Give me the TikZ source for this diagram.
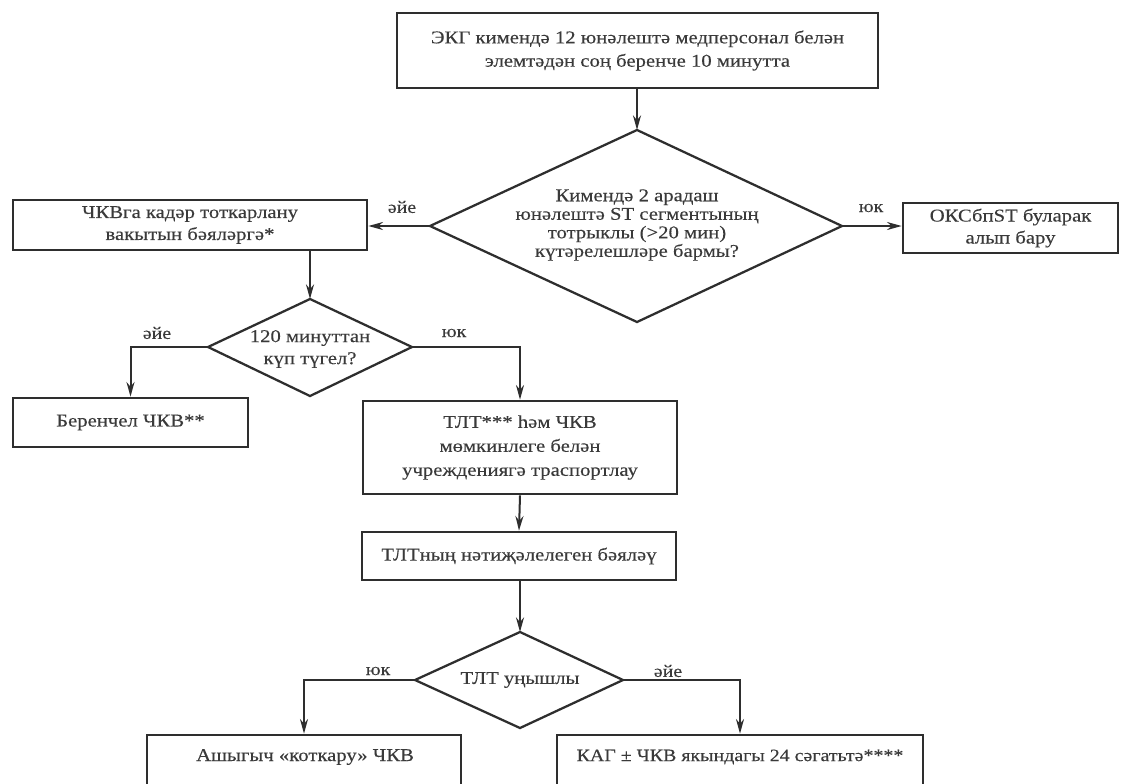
\documentclass[tikz,border=0pt]{standalone}
\usepackage{fontspec}
\setmainfont{Liberation Serif}
\newfontfamily\wide[FakeStretch=1.15,FakeBold=0.25]{Liberation Serif}
\usetikzlibrary{arrows.meta}
\definecolor{ink}{HTML}{2E2E2E}
\definecolor{txt}{HTML}{3A3A3A}
\tikzset{
  box/.style={draw=ink, line width=2pt, fill=white, text=txt, align=center, inner sep=0pt,
    font=\wide\fontsize{13.5}{17.5}\selectfont},
  dtext/.style={text=txt, align=center, inner sep=0pt, font=\wide\fontsize{13.5}{17.5}\selectfont},
  conn/.style={draw=ink, line width=1.5pt, -{Stealth[length=11pt,width=6pt]}},
  diam/.style={draw=ink, line width=1.7pt},
  lbl/.style={text=txt, font=\wide\fontsize{13}{15}\selectfont, inner sep=0pt},
}
\begin{document}
\begin{tikzpicture}[x=0.75pt,y=-0.75pt]
\useasboundingbox (0,0) rectangle (1123,783);
\clip (0,0) rectangle (1123,783);
% boxes
\node[box, minimum width=481*0.75pt, minimum height=75*0.75pt] (top) at (637.5,50.5)
  {ЭКГ кимендә 12 юнәлештә медперсонал белән\\элемтәдән соң беренче 10 минутта};
\node[box, minimum width=354*0.75pt, minimum height=50*0.75pt,
  font=\wide\fontsize{13.5}{16.5}\selectfont] (delay) at (190,225)
  {ЧКВга кадәр тоткарлану\\вакытын бәяләргә*};
\node[box, minimum width=215*0.75pt, minimum height=50*0.75pt,
  font=\wide\fontsize{13.5}{16.5}\selectfont] (oks) at (1010.5,228)
  {ОКСбпST буларак\\алып бару};
\node[box, minimum width=235*0.75pt, minimum height=49*0.75pt] (prim) at (130.5,422.5)
  {Беренчел ЧКВ**};
\node[box, minimum width=314*0.75pt, minimum height=93*0.75pt,
  font=\wide\fontsize{13.5}{18}\selectfont] (tlt) at (520,447.5)
  {ТЛТ*** һәм ЧКВ\\мөмкинлеге белән\\учреждениягә траспортлау};
\node[box, minimum width=314*0.75pt, minimum height=48*0.75pt] (eval) at (519,556)
  {ТЛТның нәтиҗәлелеген бәяләү};
\node[box, minimum width=314*0.75pt, minimum height=110*0.75pt] (resc) at (304,790) {};
\node[dtext] (resct) at (305,757) {Ашыгыч «коткару» ЧКВ};
\node[box, minimum width=366*0.75pt, minimum height=110*0.75pt] (kag) at (740,790) {};
\node[dtext, font=\wide\fontsize{13}{15}\selectfont] (kagt) at (740,757) {КАГ ± ЧКВ якындагы 24 сәгатьтә****};
% diamond 1
\coordinate (d1t) at (637,130); \coordinate (d1l) at (430,226);
\coordinate (d1r) at (842,226); \coordinate (d1b) at (637,322);
\draw[diam] (d1t) -- (d1r) -- (d1b) -- (d1l) -- cycle;
\node[dtext, font=\wide\fontsize{13.5}{13.9}\selectfont] (d1) at (637,225)
  {Кимендә 2 арадаш\\юнәлештә ST сегментының\\тотрыклы (>20 мин)\\күтәрелешләре бармы?};
% diamond 2
\coordinate (d2t) at (310,299); \coordinate (d2l) at (208,347);
\coordinate (d2r) at (412,347); \coordinate (d2b) at (310,396);
\draw[diam] (d2t) -- (d2r) -- (d2b) -- (d2l) -- cycle;
\node[dtext, font=\wide\fontsize{13.5}{16.5}\selectfont] (d2) at (310,349) {120 минуттан\\күп түгел?};
% diamond 3
\coordinate (d3t) at (520,632); \coordinate (d3l) at (415,680);
\coordinate (d3r) at (623,680); \coordinate (d3b) at (520,728);
\draw[diam] (d3t) -- (d3r) -- (d3b) -- (d3l) -- cycle;
\node[dtext] (d3) at (520,680) {ТЛТ уңышлы};
% connectors
\draw[conn] (top.south -| d1t) -- (d1t);
\draw[conn] (d1l) -- (delay.east |- d1l);
\draw[conn] (d1r) -- (oks.west |- d1r);
\draw[conn] (delay.south -| d2t) -- (d2t);
\draw[conn] (d2l) -| (prim.north);
\draw[conn] (d2r) -| (tlt.north);
\draw[conn] (tlt.south) -- (eval.north);
\draw[conn] (eval.south -| d3t) -- (d3t);
\draw[conn] (d3l) -| (resc.north);
\draw[conn] (d3r) -| (kag.north);
% labels
\node[lbl] at (402,207) {әйе};
\node[lbl] at (871,208) {юк};
\node[lbl] at (157,333) {әйе};
\node[lbl] at (454,333) {юк};
\node[lbl] at (378,671) {юк};
\node[lbl] at (668,671) {әйе};
\end{tikzpicture}
\end{document}
